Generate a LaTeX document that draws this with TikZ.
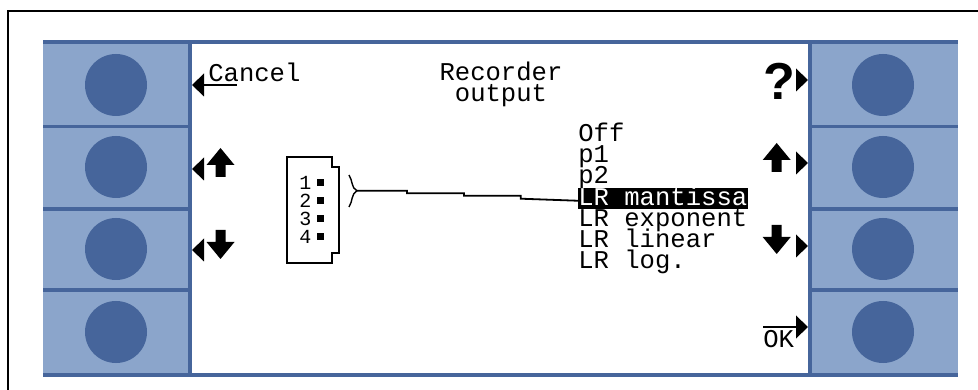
\documentclass[tikz,border=0pt]{standalone}
\usepackage{fontspec}
\setmainfont{Liberation Sans}
\setmonofont{Liberation Mono}
\usepackage{tikz}
\usetikzlibrary{positioning}
\definecolor{keyblue}{HTML}{8BA5CB}
\definecolor{panelblue}{HTML}{46659B}
\newcommand{\lcdfont}{\fontsize{25.6}{21}\selectfont\ttfamily}
\newcommand{\pinfont}{\fontsize{20}{20}\selectfont\ttfamily}
\tikzset{
  softkey/.style={rectangle,fill=keyblue,inner sep=0pt},
  knob/.style={circle,fill=panelblue,inner sep=0pt,minimum size=62pt},
  lcd/.style={font=\lcdfont,inner sep=0pt},
  menuitem/.style={lcd,anchor=north west,text width=170pt,
    minimum height=20.67pt,text height=17pt,text depth=3.67pt,
    execute at begin node={\spaceskip=15.36pt\relax}},
  pin/.style={rectangle,fill=black,inner sep=0pt,minimum size=7pt},
  pointleft/.pic={\fill (0,0) -- (12,-11.5) -- (12,11.5) -- cycle;},
  pointright/.pic={\fill (0,0) -- (-12,-11.5) -- (-12,11.5) -- cycle;},
  blockup/.pic={\fill (0,0) -- (14,17) -- (5,17) -- (5,29) -- (-5,29) -- (-5,17) -- (-14,17) -- cycle;},
  blockdown/.pic={\fill (0,0) -- (14,-17) -- (5,-17) -- (5,-29) -- (-5,-29) -- (-5,-17) -- (-14,-17) -- cycle;}
}
\begin{document}
\begin{tikzpicture}[x=1pt,y=-1pt,semithick]
  \useasboundingbox (0,0) rectangle (978,390);
  % frame and panel
  \draw[line width=2.4pt] (8,390) -- (8,11) -- (978,11);
  \fill[panelblue] (43,40) rectangle (958,377);
  \fill[white] (191.7,43.7) rectangle (808,373);
  % the eight keys
  \foreach \row/\ypos/\keyh/\knoby in {1/84.4/81.4/85,2/167.5/79/167,3/249.3/77.4/249,4/332.5/81/332} {
    \node (keyl\row) [softkey,minimum width=145pt,minimum height=\keyh pt] at (115.5,\ypos) {};
    \node (keyr\row) [softkey,minimum width=146.3pt,minimum height=\keyh pt] at (884.9,\ypos) {};
    \node (knobl\row) [knob] at (116,\knoby) {};
    \node (knobr\row) [knob] at (883,\knoby) {};
  }
  % left side symbols
  \pic at (192,85) {pointleft};
  \coordinate (cancelstart) at (204,85);
  \coordinate (cancelend) at (237,85);
  \draw[line width=1.8pt] (cancelstart) -- (cancelend);
  \node (cancel) [lcd,anchor=base west] at (208,81.7) {Cancel};
  \pic at (192,169) {pointleft};
  \pic at (220.5,148) {blockup};
  \pic at (192,250) {pointleft};
  \pic at (220.5,259) {blockdown};
  % title
  \node (recorder) [lcd,anchor=base] at (501,80.7) {Recorder};
  \node (output) [lcd,anchor=base] at (501,101.7) {output};
  % connector
  \draw[line width=2pt] (286.7,156.7) -- (331.7,156.7) -- (331.7,166.7) -- (339,166.7)
    -- (339,253) -- (331.7,253) -- (331.7,263) -- (286.7,263) -- cycle;
  \foreach \i/\ypos in {1/183,2/201,3/219,4/237} {
    \node (pin\i) [pin] at (320.5,\ypos) {};
    \node (num\i) [font=\pinfont,inner sep=0pt,left=5pt of pin\i] {\i};
  }
  % menu
  \node (off) [menuitem] at (578,124) {Off};
  \node (p1) [menuitem,below=0pt of off.south west,anchor=north west] {p1};
  \node (p2) [menuitem,below=0pt of p1.south west,anchor=north west] {p2};
  \node (mantissa) [menuitem,below=0pt of p2.south west,anchor=north west,fill=black,text=white] {LR mantissa};
  \node (exponent) [menuitem,below=0pt of mantissa.south west,anchor=north west] {LR exponent};
  \node (linear) [menuitem,below=0pt of exponent.south west,anchor=north west] {LR linear};
  \node (logitem) [menuitem,below=0pt of linear.south west,anchor=north west] {LR log.};
  % wire to the selected item
  \coordinate (wiretip) at (357,190.7);
  \draw[line width=1.4pt] (349,175) .. controls (353,181) and (351,188) .. (wiretip)
    .. controls (351,194) and (353,201) .. (349,207);
  \draw[line width=1.8pt] (wiretip) -- (407,190.7) -- (407,193.3) -- (464,193.3) -- (464,195.7)
    -- (520.7,195.7) -- (520.7,198.7) -- ([yshift=-2.3pt]mantissa.west);
  % right side symbols
  \node (help) [font=\fontsize{52}{52}\selectfont\bfseries,inner sep=0pt,anchor=base] at (779,100) {?};
  \pic at (808,80) {pointright};
  \pic at (808,163) {pointright};
  \pic at (776.7,143) {blockup};
  \pic at (808,246) {pointright};
  \pic at (776.7,254) {blockdown};
  \pic at (808,327) {pointright};
  \coordinate (okstart) at (763,327);
  \coordinate (okend) at (797,327);
  \draw[line width=1.8pt] (okstart) -- (okend);
  \node (ok) [lcd,anchor=base west] at (763,348) {OK};
\end{tikzpicture}
\end{document}
